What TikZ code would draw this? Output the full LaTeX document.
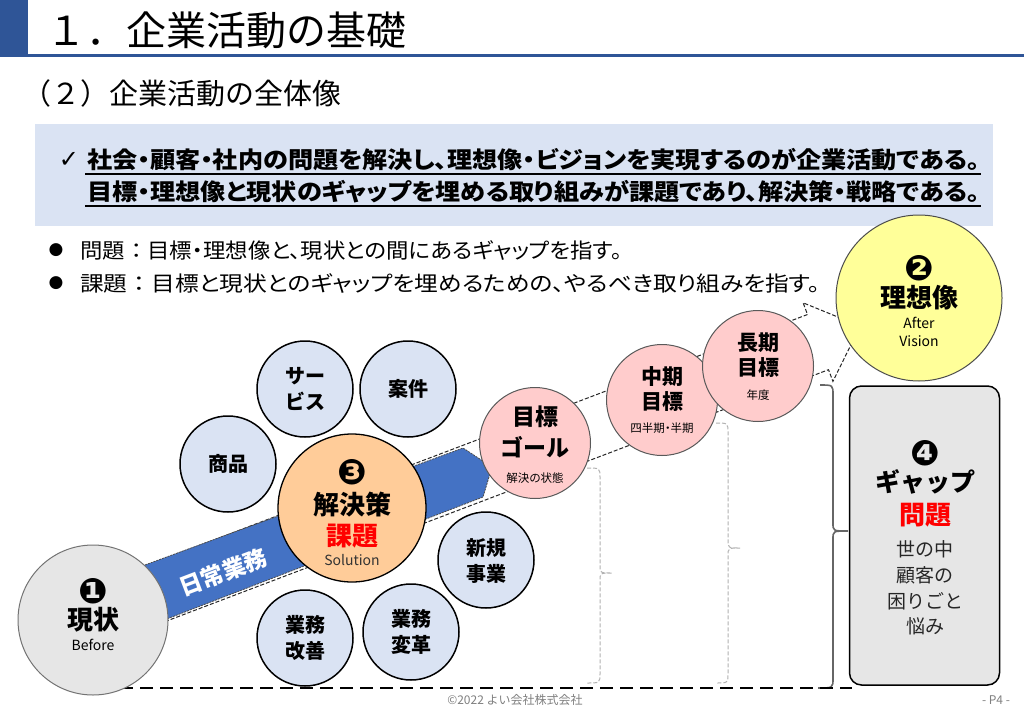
\documentclass[tikz,border=0pt]{standalone}
\usepackage{fontspec}
\usepackage{graphicx}
\setmainfont{Noto Sans CJK JP}
\newfontfamily\jpp{Noto Sans CJK JP}[RawFeature=+palt]
\newfontfamily\djv{DejaVu Sans}
\usetikzlibrary{calc}
\definecolor{hdrblue}{HTML}{2F5597}
\definecolor{boxblue}{HTML}{DAE3F3}
\definecolor{cblue}{HTML}{DAE3F3}
\definecolor{yelf}{HTML}{FFFF99}
\definecolor{grayf}{HTML}{E6E6E6}
\definecolor{orf}{HTML}{FFCC99}
\definecolor{pinkf}{HTML}{FFCCCC}
\definecolor{arrblue}{HTML}{4472C4}
\definecolor{pred}{HTML}{FF0000}
\newcommand\fsz[1]{\fontsize{#1}{#1}\selectfont}
\newcommand\fitw[2]{\resizebox{#1}{\height}{#2}}
\begin{document}
\begin{tikzpicture}[x=1pt,y=-1pt,
  smallc/.style={circle, draw=black, line width=1.5pt, fill=cblue, minimum size=96pt, inner sep=0pt},
  pinkc/.style={circle, draw=black!65, line width=1pt, fill=pinkf, minimum size=111pt, inner sep=0pt},
  lbl/.style={inner sep=0pt, anchor=center},
  num/.style={lbl, font=\djv\bfseries\fsz{35}},
  big/.style={lbl, font=\bfseries\fsz{26}},
  latin/.style={lbl, font=\fsz{14}},
  two/.style={lbl, align=center, font=\bfseries\fontsize{20}{26}\selectfont},
  pinkt/.style={lbl, font=\bfseries\fsz{21}},
  tiny/.style={lbl, font=\jpp\fsz{11.5}},
  gbrace/.style={draw=black!30, line width=1pt, dash pattern=on 4pt off 2pt},
  bigarrow/.style={draw=black!85, line width=1pt, dash pattern=on 4pt off 2pt, fill=white},
]
\useasboundingbox (0,0) rectangle (1024,709);
\fill[white] (0,0) rectangle (1024,709);

% header
\fill[hdrblue] (0,0) rectangle (28,57);
\fill[hdrblue] (0,54) rectangle (1024,57.5);
\node[anchor=west, inner sep=0pt, font=\fsz{40}] (title) at (46,30) {１．企業活動の基礎};
\node[anchor=west, inner sep=0pt, font=\fsz{29}] (sub) at (22,93) {（２）企業活動の全体像};

% summary box
\fill[boxblue] (35,124) rectangle (993,226);
\node[anchor=center, inner sep=0pt, font=\djv\fsz{24}] (chk) at (69,160) {✓};
\node[anchor=west, inner sep=0pt, font=\jpp\bfseries\fsz{23}] (l1) at (87,160) {\fitw{893pt}{社会・顧客・社内の問題を解決し、理想像・ビジョンを実現するのが企業活動である。}};
\node[anchor=west, inner sep=0pt, font=\jpp\bfseries\fsz{23}] (l2) at (87,192) {\fitw{893pt}{目標・理想像と現状のギャップを埋める取り組みが課題であり、解決策・戦略である。}};
\draw[line width=1.5pt] (85,174) -- (981,174);
\draw[line width=1.5pt] (85,206) -- (981,206);

% bullets
\node[lbl, font=\djv\fsz{17}] (b1) at (56,250) {●};
\node[lbl, font=\djv\fsz{17}] (b2) at (56,283) {●};
\node[anchor=west, inner sep=0pt, font=\jpp\fsz{21}] (t1) at (80,250) {\fitw{542pt}{問題{\rmfamily ：}目標・理想像と、現状との間にあるギャップを指す。}};
\node[anchor=west, inner sep=0pt, font=\jpp\fsz{21}] (t2) at (80,283) {\fitw{740pt}{課題{\rmfamily ：}目標と現状とのギャップを埋めるための、やるべき取り組みを指す。}};

% big dashed arrow
\draw[bigarrow] (96.9,584.3) -- (807.5,314.5) -- (803.1,302.8) -- (860.1,326.1) -- (832.9,381.4) -- (828.5,369.7) -- (117.9,639.5) -- cycle;

% braces
\draw[gbrace] (587,468) .. controls (600,468) .. (600,478) -- (600,565) .. controls (600,573) .. (612,573) .. controls (600,573) .. (600,581) -- (600,673) .. controls (600,683) .. (587,683);
\draw[gbrace] (716,423) .. controls (728,423) .. (728,433) -- (728,540) .. controls (728,548) .. (740,548) .. controls (728,548) .. (728,556) -- (728,673) .. controls (728,683) .. (716,683);
\draw[draw=black!60, line width=1.6pt] (820,385) .. controls (833,385) .. (833,395) -- (833,523) .. controls (833,531) .. (848,531) .. controls (833,531) .. (833,539) -- (833,678) .. controls (833,688) .. (818,688);

% baseline
\coordinate (bl1) at (120,688);
\coordinate (bl2) at (852,688);
\draw[line width=2pt, dash pattern=on 13pt off 7pt] (bl1) -- (bl2);

% blue arrow
\draw[fill=arrblue, draw=black!70, line width=0.8pt, dash pattern=on 2pt off 1pt] (100,581.5) -- (463,448) -- (492,467) -- (483,497) -- (120,637) -- cycle;
\node[lbl, rotate=20.8, text=white, font=\bfseries\fsz{23}] (nichijo) at (223,572) {日常業務};

% small circles
\node[smallc] (shohin) at (228,464) {};
\node[two] (shohint) at (228,464) {商品};
\node[smallc] (service) at (305,389) {};
\node[two] (servicet) at (305,389) {サー\\ビス};
\node[smallc] (anken) at (408,389) {};
\node[two] (ankent) at (408,389) {案件};
\node[smallc] (shinki) at (486,560) {};
\node[two] (shinkit) at (486,561) {新規\\事業};
\node[smallc] (kaizen) at (305,638) {};
\node[two] (kaizent) at (305,638) {業務\\改善};
\node[smallc] (henkaku) at (411,632) {};
\node[two] (henkakut) at (411,632) {業務\\変革};

% solution
\node[circle, draw=black, line width=1.3pt, fill=orf, minimum size=148pt, inner sep=0pt] (sol) at (352,508) {};
\node[num] (n3) at (352,472) {❸};
\node[big] (solt) at (352,505) {解決策};
\node[big, text=pred] (solk) at (352,536) {課題};
\node[latin, text=black!80] (sole) at (352,560) {Solution};

% pink circles
\node[pinkc] (goal) at (535,443) {};
\node[lbl, font=\bfseries\fsz{23}] (goal1) at (535,417) {目標};
\node[lbl, font=\bfseries\fsz{23}] (goal2) at (535,447) {ゴール};
\node[tiny] (goal3) at (535,478) {解決の状態};
\node[pinkc] (mid) at (662,400) {};
\node[pinkt] (mid1) at (662,377) {中期};
\node[pinkt] (mid2) at (662,402) {目標};
\node[tiny] (mid3) at (662,428) {四半期・半期};
\node[pinkc] (long) at (758,366) {};
\node[pinkt] (long1) at (758,343) {長期};
\node[pinkt] (long2) at (758,368) {目標};
\node[tiny] (long3) at (758,395) {年度};

% ideal
\node[circle, draw=black!70, line width=1pt, fill=yelf, minimum size=166pt, inner sep=0pt] (ideal) at (919,298) {};
\node[num] (n2) at (919,268) {❷};
\node[big] (idealt) at (919,298) {理想像};
\node[latin] (ideal1) at (919,323) {After};
\node[latin] (ideal2) at (919,341) {Vision};

% current
\node[circle, draw=black!55, line width=1pt, fill=grayf, minimum size=150pt, inner sep=0pt] (cur) at (93,620) {};
\node[num] (n1) at (93,591) {❶};
\node[big] (curt) at (93,620) {現状};
\node[latin] (cure) at (93,645) {Before};

% gap box
\node[draw=black, line width=1.5pt, rounded corners=12pt, fill=grayf, minimum width=150pt, minimum height=299pt, inner sep=0pt] (gap) at (924.5,535.5) {};
\node[num] (n4) at (925,453) {❹};
\node[lbl, font=\bfseries\fsz{25}] (gapt) at (925,482) {ギャップ};
\node[lbl, text=pred, font=\bfseries\fsz{26}] (gapm) at (925,515) {問題};
\node[lbl, align=center, font=\fontsize{19}{25.7}\selectfont, text=black!85] (gapd) at (925,588) {世の中\\顧客の\\困りごと\\悩み};

% footer
\node[lbl, text=black!50, font=\fsz{12}] (copy) at (515,700) {©2022 よい会社株式会社};
\node[lbl, text=black!50, font=\fsz{12}] (page) at (996,700) {- P4 -};
\end{tikzpicture}
\end{document}
